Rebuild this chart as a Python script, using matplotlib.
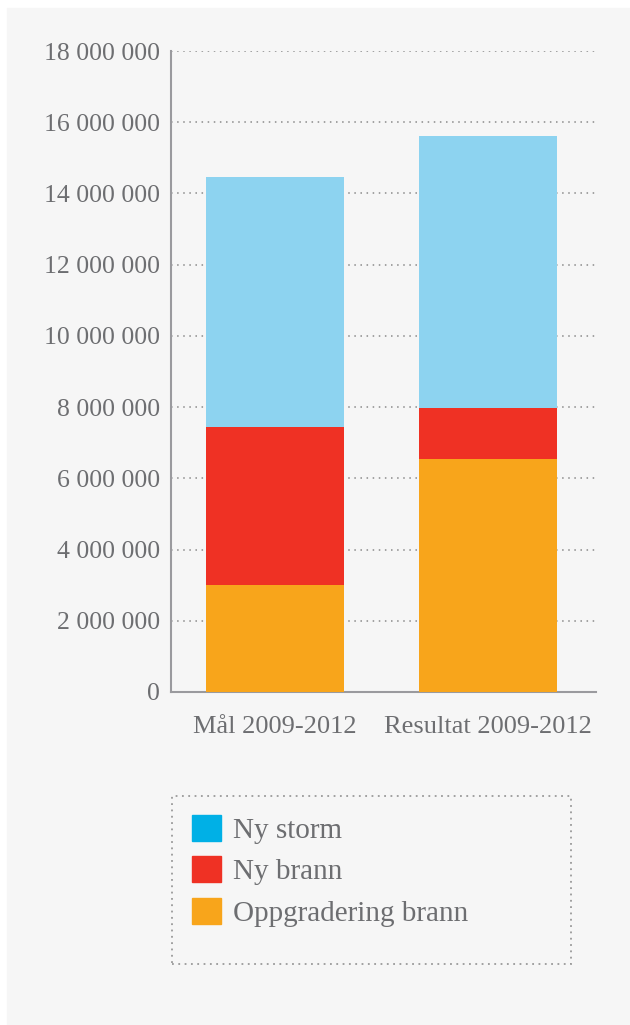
import matplotlib
matplotlib.use('Agg')
import matplotlib.pyplot as plt
from matplotlib.patches import Patch, Rectangle

categories = ['Mål 2009-2012', 'Resultat 2009-2012']
oppgradering_brann = [3000000, 6540000]
ny_brann = [4440000, 1440000]
ny_storm = [7030000, 7640000]
series_names = ['Ny storm', 'Ny brann', 'Oppgradering brann']
y_ticks = [0, 2000000, 4000000, 6000000, 8000000, 10000000,
           12000000, 14000000, 16000000, 18000000]

plt.rcParams['font.family'] = ['Liberation Serif', 'DejaVu Serif']
txt = '#6d6e71'
c_orange = '#f8a51b'
c_red = '#ef3124'
c_blue_bar = '#8dd3f0'
c_blue_leg = '#00b0e6'

fig = plt.figure(figsize=(6.3, 10.25), dpi=100, facecolor='white')
fig.patches.append(Rectangle((7 / 630, 0), 1 - 7 / 630, 1 - 8 / 1025,
                             transform=fig.transFigure, color='#f6f6f6', zorder=-10))

ax = fig.add_axes([171 / 630, 1 - 692 / 1025, (598 - 171) / 630, (692 - 51) / 1025])
ax.set_facecolor('none')

x = range(len(categories))
w = 0.648
bottom2 = [a + b for a, b in zip(oppgradering_brann, ny_brann)]
ax.bar(x, oppgradering_brann, w, color=c_orange, zorder=3)
ax.bar(x, ny_brann, w, bottom=oppgradering_brann, color=c_red, zorder=3)
ax.bar(x, ny_storm, w, bottom=bottom2, color=c_blue_bar, zorder=3)

ax.set_xlim(-0.488, 1.516)
ax.set_ylim(0, 18000000)
ax.set_yticks(y_ticks)
ax.set_yticklabels(['{:,}'.format(v).replace(',', ' ') for v in y_ticks])
ax.set_xticks(list(x))
ax.set_xticklabels(categories)
ax.tick_params(axis='y', length=0, pad=8, labelsize=18.5, labelcolor=txt)
ax.tick_params(axis='x', length=0, pad=17, labelsize=19, labelcolor=txt)

for v in y_ticks[1:]:
    ax.axhline(v, color='#8a8a8a', linestyle=(0, (1, 3)), linewidth=1.1, zorder=1)

for s in ['top', 'right']:
    ax.spines[s].set_visible(False)
ax.spines['left'].set_color('#9a9a9e')
ax.spines['bottom'].set_color('#9a9a9e')
ax.spines['left'].set_linewidth(1.5)
ax.spines['bottom'].set_linewidth(1.5)
ax.spines['bottom'].set_bounds(-0.488, 1.505)

# legend box
fig.patches.append(Rectangle((172 / 630, 1 - 964 / 1025), (571 - 172) / 630, (964 - 796) / 1025,
                             transform=fig.transFigure, fill=False, edgecolor='#999999',
                             linestyle=(0, (1, 2.5)), linewidth=1.3))
handles = [Patch(color=c_blue_leg), Patch(color=c_red), Patch(color=c_orange)]
fig.legend(handles, series_names, loc='upper left', bbox_to_anchor=(192 / 630, 1 - 815 / 1025),
           frameon=False, fontsize=21, labelcolor=txt, handlelength=1.0, handleheight=1.0,
           handletextpad=0.4, labelspacing=0.42, borderpad=0, borderaxespad=0)

fig.savefig('out.png', dpi=100, facecolor='white')
